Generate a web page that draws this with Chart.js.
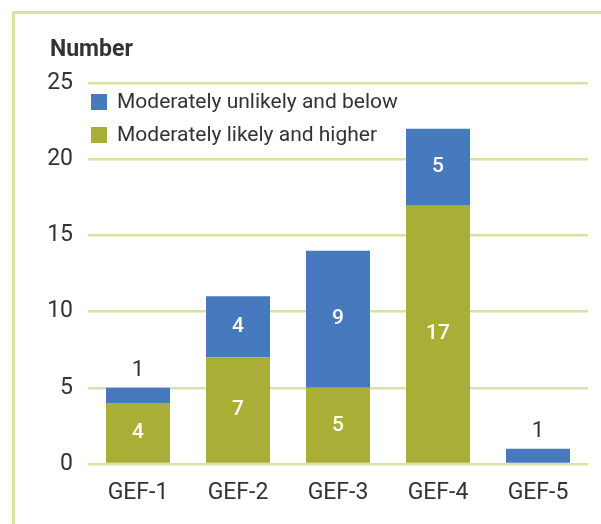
<!DOCTYPE html>
<html lang="en">
<head>
    <meta charset="UTF-8">
    <title>Number by GEF</title>
    <style>
        body {
            margin: 0;
            background: #fff;
            font-family: Roboto, sans-serif;
        }
        #frame {
            position: absolute;
            left: 12px;
            top: 11px;
            width: 600px;
            height: 520px;
            border-left: 3px solid #d6e59d;
            border-top: 3px solid #d6e59d;
        }
        #wrap {
            position: absolute;
            left: 0;
            top: 0;
            width: 601px;
            height: 524px;
        }
    </style>
</head>
<body>
    <div id="frame"></div>
    <div id="wrap"><canvas id="gefChart" width="601" height="524"></canvas></div>

    <script src="https://cdn.jsdelivr.net/npm/chart.js"></script>
    <script>
        const categories = ['GEF-1', 'GEF-2', 'GEF-3', 'GEF-4', 'GEF-5'];
        const likelyHigher = [4, 7, 5, 17, 0];
        const unlikelyBelow = [1, 4, 9, 5, 1];
        const yTicks = [0, 5, 10, 15, 20, 25];
        const yTitle = 'Number';

        const BLUE = '#4679be';
        const GREEN = '#a9ae37';
        const GRID = '#d6e59d';
        const TEXT = '#333333';

        // value labels: white inside the segment, dark above it when the segment is too thin
        const valueLabels = {
            id: 'valueLabels',
            afterDatasetsDraw(chart) {
                const ctx = chart.ctx;
                ctx.save();
                ctx.textAlign = 'center';
                ctx.textBaseline = 'middle';
                chart.data.datasets.forEach((ds, i) => {
                    chart.getDatasetMeta(i).data.forEach((bar, j) => {
                        const v = ds.data[j];
                        if (!v) return;
                        const h = bar.base - bar.y;
                        if (h < 24) {
                            ctx.fillStyle = TEXT;
                            ctx.font = '400 22px Roboto';
                            ctx.fillText(v, bar.x, bar.y - 17);
                        } else {
                            ctx.fillStyle = '#ffffff';
                            ctx.font = '500 21px Roboto';
                            ctx.fillText(v, bar.x, bar.y + h / 2);
                        }
                    });
                });
                ctx.restore();
            }
        };

        // legend inside the plot, top-left, blue item first; axis title above the ticks
        const innerLegend = {
            id: 'innerLegend',
            afterDraw(chart) {
                const ctx = chart.ctx;
                const area = chart.chartArea;
                const items = chart.data.datasets.slice().reverse();
                ctx.save();
                ctx.font = '400 21px Roboto';
                ctx.textBaseline = 'middle';
                items.forEach((ds, i) => {
                    const top = area.top + 11 + i * 33;
                    ctx.fillStyle = ds.backgroundColor;
                    ctx.fillRect(area.left + 3, top, 16, 16);
                    ctx.fillStyle = TEXT;
                    ctx.fillText(ds.label, area.left + 29, top + 9);
                });
                ctx.font = 'bold 23px Roboto';
                ctx.fillText(yTitle, area.left - 38, area.top - 33);
                ctx.restore();
            }
        };

        new Chart(document.getElementById('gefChart'), {
            type: 'bar',
            data: {
                labels: categories,
                datasets: [
                    {
                        label: 'Moderately likely and higher',
                        data: likelyHigher,
                        backgroundColor: GREEN,
                        barPercentage: 0.64,
                        categoryPercentage: 1
                    },
                    {
                        label: 'Moderately unlikely and below',
                        data: unlikelyBelow,
                        backgroundColor: BLUE,
                        barPercentage: 0.64,
                        categoryPercentage: 1
                    }
                ]
            },
            options: {
                responsive: false,
                animation: false,
                layout: {
                    padding: { top: 83, left: 0, right: 13, bottom: 0 }
                },
                plugins: {
                    legend: { display: false },
                    tooltip: { enabled: false },
                    title: { display: false }
                },
                scales: {
                    x: {
                        stacked: true,
                        grid: { display: false },
                        border: { display: false },
                        ticks: {
                            color: TEXT,
                            padding: 7,
                            font: { family: 'Roboto', size: 23 }
                        },
                        afterFit(scale) { scale.height = 60; }
                    },
                    y: {
                        stacked: true,
                        min: 0,
                        max: 25,
                        afterBuildTicks(scale) {
                            scale.ticks = yTicks.map(v => ({ value: v }));
                        },
                        grid: {
                            color: GRID,
                            lineWidth: 2.5,
                            drawTicks: false
                        },
                        border: { display: false },
                        ticks: {
                            color: TEXT,
                            padding: 15,
                            font: { family: 'Roboto', size: 23 }
                        },
                        afterFit(scale) { scale.width = 88; }
                    }
                }
            },
            plugins: [valueLabels, innerLegend]
        });
    </script>
</body>
</html>
